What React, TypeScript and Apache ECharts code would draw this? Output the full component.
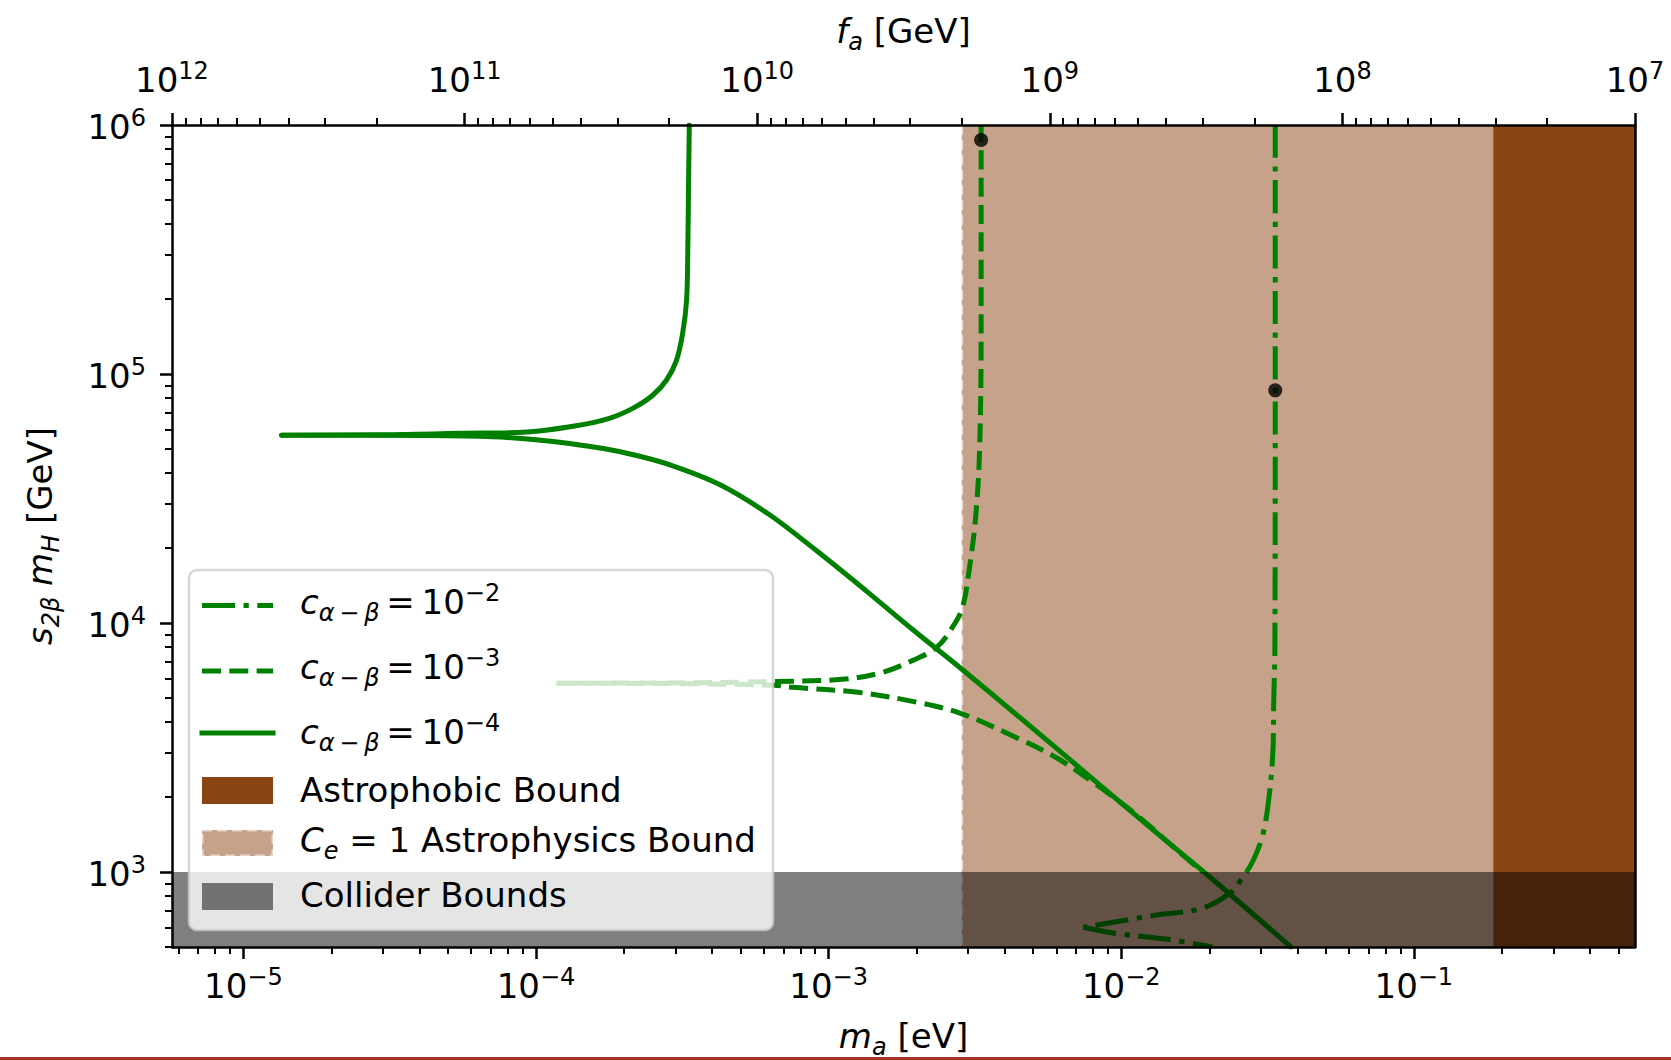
import React, { useEffect, useRef } from 'react';
import * as echarts from 'echarts';

// ---------- axis ranges / ticks ----------
const M_MIN = 5.7e-6;
const M_MAX = 0.57;
const FA_MIN = 1e7;
const FA_MAX = 1e12;
const Y_MIN = 500;
const Y_MAX = 1e6;

const X_MAJOR = [1e-5, 1e-4, 1e-3, 1e-2, 1e-1];
const FA_MAJOR = [1e7, 1e8, 1e9, 1e10, 1e11, 1e12];
const Y_MAJOR = [1e3, 1e4, 1e5, 1e6];

// ---------- bounds ----------
const FA_TIMES_MA = 5.7e6; // m_a [eV] = 5.7e6 / f_a [GeV]
const CE1_BOUND_FA = 2e9;
const ASTROPHOBIC_BOUND_FA = 3.05e7;
const COLLIDER_MAX = 1000;

// ---------- curves: c_{α-β} = 1e-4 (solid) ----------
const SOLID_UP_M = [1.35e-5, 3.0e-5, 5.47e-5, 9.27e-5, 1.37e-4, 1.78e-4, 2.14e-4, 2.5e-4, 2.79e-4, 3.02e-4, 3.17e-4, 3.27e-4, 3.3e-4, 3.32e-4, 3.34e-4];
const SOLID_UP_Y = [5.68e4, 5.7e4, 5.78e4, 5.85e4, 6.2e4, 6.64e4, 7.28e4, 8.2e4, 9.44e4, 1.135e5, 1.455e5, 1.98e5, 3.05e5, 5.62e5, 1e6];
const SOLID_LO_M = [1.35e-5, 4.0e-5, 7.1e-5, 1.0e-4, 1.3e-4, 1.7e-4, 2.15e-4, 2.9e-4, 4.24e-4, 6.23e-4, 9.1e-4, 1.34e-3, 1.95e-3, 2.8e-3, 4.5e-3, 8.11e-3, 1.3e-2, 2.07e-2, 3.8e-2];
const SOLID_LO_Y = [5.68e4, 5.66e4, 5.6e4, 5.45e4, 5.26e4, 5.02e4, 4.74e4, 4.3e4, 3.6e4, 2.74e4, 1.95e4, 1.35e4, 9.35e3, 6.64e3, 4.18e3, 2.33e3, 1.46e3, 927, 500];

// ---------- c_{α-β} = 1e-3 (dashed) ----------
const DASH_UP_M = [1.175e-4, 3.62e-4, 6.49e-4, 1.11e-3, 1.5e-3, 1.94e-3, 2.34e-3, 2.65e-3, 2.87e-3, 3.03e-3, 3.18e-3, 3.28e-3, 3.32e-3, 3.32e-3];
const DASH_UP_Y = [5.73e3, 5.76e3, 5.82e3, 5.94e3, 6.3e3, 7.08e3, 7.98e3, 9.62e3, 1.16e4, 1.67e4, 2.66e4, 4.93e4, 1.5e5, 1e6];
const DASH_LO_M = [1.175e-4, 3.62e-4, 6.53e-4, 7.53e-4, 1.26e-3, 2.0e-3, 2.82e-3, 4.35e-3, 5.97e-3, 8.11e-3, 1.11e-2, 1.52e-2, 1.9e-2];
const DASH_LO_Y = [5.73e3, 5.7e3, 5.62e3, 5.52e3, 5.27e3, 4.81e3, 4.34e3, 3.48e3, 2.89e3, 2.27e3, 1.72e3, 1.25e3, 1.0e3];

// ---------- c_{α-β} = 1e-2 (dash-dot) ----------
const DASHDOT_UP_M = [3.36e-2, 3.36e-2, 3.35e-2, 3.32e-2, 3.3e-2, 3.19e-2, 3.04e-2, 2.81e-2, 2.6e-2, 2.35e-2, 1.88e-2, 1.3e-2, 7.43e-3];
const DASHDOT_UP_Y = [1e6, 8.6e4, 7.83e3, 4.81e3, 3.08e3, 1.94e3, 1.4e3, 1.1e3, 952, 821, 714, 670, 600];
const DASHDOT_LO_M = [7.43e-3, 9.48e-3, 1.52e-2, 2.05e-2];
const DASHDOT_LO_Y = [600, 568, 532, 500];

// ---------- marked points ----------
const DOT_M = [3.32e-3, 3.36e-2];
const DOT_Y = [8.7e5, 8.6e4];

// ---------- style ----------
const FONT = 'DejaVu Sans';
const GREEN = '#008000';
const SADDLE = '#8b4513';
const TAN = 'rgba(139,69,19,0.5)';
const COLLIDER = 'rgba(0,0,0,0.5)';
const LINE_W = 5;
const DASHED = [19, 8.3];
const DASHDOT = [33, 8.5, 5.3, 8.5];

function minorTicks(lo: number, hi: number): number[] {
  const out: number[] = [];
  for (let k = Math.floor(Math.log10(lo)); k <= Math.ceil(Math.log10(hi)); k++) {
    for (let j = 2; j <= 9; j++) {
      const v = j * Math.pow(10, k);
      if (v >= lo && v <= hi) out.push(v);
    }
  }
  return out;
}

const zip = (a: number[], b: number[]) => a.map((v, i) => [v, b[i]]);

const pow10Label = (v: number) => {
  const e = Math.round(Math.log10(v));
  return `{b|10}{s|${e < 0 ? '\u2212' + -e : e}}`;
};

const TICK_RICH = {
  b: { fontFamily: FONT, fontSize: 34, color: '#000', verticalAlign: 'bottom', padding: [0, 0, 0, 0] },
  s: { fontFamily: FONT, fontSize: 24, color: '#000', verticalAlign: 'bottom', padding: [0, 0, 14, 0] },
};

const NAME_RICH = {
  n: { fontFamily: FONT, fontSize: 34, color: '#000', verticalAlign: 'bottom', padding: [0, 0, 6, 0] },
  i: { fontFamily: FONT, fontSize: 34, fontStyle: 'italic', color: '#000', verticalAlign: 'bottom', padding: [0, 0, 6, 0] },
  sub: { fontFamily: FONT, fontSize: 24, fontStyle: 'italic', color: '#000', verticalAlign: 'bottom', padding: [0, 0, 0, 0] },
};

const LEG_RICH = {
  n: { fontFamily: FONT, fontSize: 34, fill: '#000', verticalAlign: 'bottom', padding: [0, 0, 6, 0] },
  i: { fontFamily: FONT, fontSize: 34, fontStyle: 'italic', fill: '#000', verticalAlign: 'bottom', padding: [0, 0, 6, 0] },
  sub: { fontFamily: FONT, fontSize: 24, fontStyle: 'italic', fill: '#000', verticalAlign: 'bottom', padding: [0, 0, 0, 0] },
  sup: { fontFamily: FONT, fontSize: 24, fill: '#000', verticalAlign: 'bottom', padding: [0, 0, 20, 0] },
  p: { fontFamily: FONT, fontSize: 34, fill: '#000', verticalAlign: 'bottom', padding: [0, 0, 0, 0] },
};

function baseAxis(extra: any) {
  return {
    logBase: 10,
    z: 10,
    splitLine: { show: false },
    minorTick: { show: false },
    minorSplitLine: { show: false },
    ...extra,
  };
}

function majorAxis(position: string, min: number, max: number, ticks: number[], margin: number, extra: any) {
  return baseAxis({
    type: 'log',
    position,
    min,
    max,
    axisLine: { show: true, onZero: false, lineStyle: { color: '#000', width: 2.5 } },
    axisTick: { show: true, length: 12, lineStyle: { color: '#000', width: 2.5 }, customValues: ticks },
    axisLabel: { show: true, customValues: ticks, formatter: pow10Label, rich: TICK_RICH, margin, fontFamily: FONT, fontSize: 34, color: '#000' },
    ...extra,
  });
}

function minorAxis(position: string, min: number, max: number, ticks: number[], extra: any) {
  return baseAxis({
    type: 'log',
    position,
    min,
    max,
    offset: 0,
    axisLine: { show: false, onZero: false },
    axisTick: { show: true, length: 7, lineStyle: { color: '#000', width: 2 }, customValues: ticks },
    axisLabel: { show: false },
    ...extra,
  });
}

function rectSeries(name: string, x0: number, x1: number, y0: number, y1: number, fill: string, z: number, edge?: string) {
  return {
    type: 'custom',
    name,
    xAxisIndex: 0,
    yAxisIndex: 0,
    z,
    silent: true,
    clip: false,
    encode: { x: [0, 1], y: [2, 3] },
    data: [[x0, x1, y0, y1]],
    renderItem: (params: any, api: any) => {
      const a = api.coord([api.value(0), api.value(3)]);
      const b = api.coord([api.value(1), api.value(2)]);
      const children: any[] = [
        { type: 'rect', shape: { x: a[0], y: a[1], width: b[0] - a[0], height: b[1] - a[1] }, style: { fill } },
      ];
      if (edge) {
        children.push({
          type: 'line',
          shape: { x1: a[0], y1: a[1], x2: a[0], y2: b[1] },
          style: { stroke: edge, lineWidth: 3, lineDash: [10, 5] },
        });
      }
      return { type: 'group', children };
    },
  };
}

function lineSeries(name: string, m: number[], y: number[], type: any, cap: string, dashOffset = 0) {
  return {
    type: 'line',
    name,
    xAxisIndex: 0,
    yAxisIndex: 0,
    data: zip(m, y),
    showSymbol: false,
    symbol: 'none',
    smooth: 0.35,
    silent: true,
    z: 3,
    lineStyle: { color: GREEN, width: LINE_W, type, cap, join: 'round', dashOffset },
  };
}

export default function App() {
  const ref = useRef<HTMLDivElement>(null);
  useEffect(() => {
    if (!ref.current) return;
    const chart = echarts.init(ref.current, undefined, { renderer: 'svg' });

    const sub = '\u03b1\u2009\u2212\u2009\u03b2';
    const legendRows = [
      { y: 605.5, dash: DASHDOT, text: `{i|c}{sub|${sub}}{n|\u2009=\u200910}{sup|\u22122}`, ty: 603 },
      { y: 671, dash: DASHED, text: `{i|c}{sub|${sub}}{n|\u2009=\u200910}{sup|\u22123}`, ty: 668 },
      { y: 733, dash: null, text: `{i|c}{sub|${sub}}{n|\u2009=\u200910}{sup|\u22124}`, ty: 733 },
    ];

    const graphic: any[] = [
      {
        type: 'rect', z: 100, silent: true,
        shape: { x: 189, y: 570, width: 584, height: 360, r: 8 },
        style: { fill: 'rgba(255,255,255,0.8)', stroke: 'rgba(204,204,204,0.8)', lineWidth: 2.5 },
      },
      ...legendRows.map((r) => ({
        type: 'line', z: 101, silent: true,
        shape: { x1: 202, y1: r.y, x2: 273, y2: r.y },
        style: { stroke: GREEN, lineWidth: LINE_W, lineDash: r.dash || null, lineCap: r.dash ? 'butt' : 'square' },
      })),
      ...legendRows.map((r) => ({
        type: 'text', z: 101, silent: true, x: 300, y: r.ty,
        style: { text: r.text, rich: LEG_RICH, align: 'left', verticalAlign: 'middle', fill: '#000', fontFamily: FONT, fontSize: 34 },
      })),
      { type: 'rect', z: 101, silent: true, shape: { x: 202, y: 777, width: 71, height: 27 }, style: { fill: SADDLE } },
      {
        type: 'rect', z: 101, silent: true, shape: { x: 202, y: 830, width: 71, height: 26 },
        style: { fill: TAN, stroke: 'rgba(255,255,255,0.55)', lineWidth: 3, lineDash: [10, 5] },
      },
      { type: 'rect', z: 101, silent: true, shape: { x: 202, y: 883, width: 71, height: 27 }, style: { fill: COLLIDER } },
      {
        type: 'text', z: 101, silent: true, x: 300, y: 790,
        style: { text: '{p|Astrophobic Bound}', rich: LEG_RICH, align: 'left', verticalAlign: 'middle', fill: '#000' },
      },
      {
        type: 'text', z: 101, silent: true, x: 300, y: 843,
        style: { text: '{i|C}{sub|e}{n| = 1 Astrophysics Bound}', rich: LEG_RICH, align: 'left', verticalAlign: 'middle', fill: '#000' },
      },
      {
        type: 'text', z: 101, silent: true, x: 300, y: 895,
        style: { text: '{p|Collider Bounds}', rich: LEG_RICH, align: 'left', verticalAlign: 'middle', fill: '#000' },
      },
      { type: 'rect', z: 101, silent: true, shape: { x: 0, y: 1057, width: 1671, height: 3 }, style: { fill: '#a93226' } },
    ];

    chart.setOption({
      animation: false,
      backgroundColor: '#fff',
      grid: { left: 172, top: 125, width: 1463, height: 822, show: false, containLabel: false, outerBoundsMode: 'none' },
      xAxis: [
        majorAxis('bottom', M_MIN, M_MAX, X_MAJOR, 18, {
          name: '{i|m}{sub|a}{n| [eV]}',
          nameLocation: 'middle',
          nameGap: 72,
          nameTextStyle: { rich: NAME_RICH, fontFamily: FONT, fontSize: 34, color: '#000' },
        }),
        majorAxis('top', FA_MIN, FA_MAX, FA_MAJOR, 28, {
          inverse: true,
          name: '{i|f}{sub|a}{n| [GeV]}',
          nameLocation: 'middle',
          nameGap: 64,
          nameTextStyle: { rich: NAME_RICH, fontFamily: FONT, fontSize: 34, color: '#000' },
        }),
        minorAxis('bottom', M_MIN, M_MAX, minorTicks(M_MIN, M_MAX), {}),
        minorAxis('top', FA_MIN, FA_MAX, minorTicks(FA_MIN, FA_MAX), { inverse: true }),
      ],
      yAxis: [
        majorAxis('left', Y_MIN, Y_MAX, Y_MAJOR, 26, {
          name: '{i|s}{sub|2\u03b2}{i| m}{sub|H}{n| [GeV]}',
          nameLocation: 'middle',
          nameRotate: 90,
          nameGap: 109,
          nameTextStyle: { rich: NAME_RICH, fontFamily: FONT, fontSize: 34, color: '#000' },
        }),
        minorAxis('left', Y_MIN, Y_MAX, minorTicks(Y_MIN, Y_MAX), {}),
        baseAxis({
          type: 'log', position: 'right', min: Y_MIN, max: Y_MAX,
          axisLine: { show: true, onZero: false, lineStyle: { color: '#000', width: 2.5 } },
          axisTick: { show: false }, axisLabel: { show: false },
        }),
      ],
      series: [
        rectSeries('C_e = 1 Astrophysics Bound', FA_TIMES_MA / CE1_BOUND_FA, M_MAX, Y_MIN, Y_MAX, TAN, 1, 'rgba(255,255,255,0.55)'),
        rectSeries('Astrophobic Bound', FA_TIMES_MA / ASTROPHOBIC_BOUND_FA, M_MAX, Y_MIN, Y_MAX, SADDLE, 2),
        lineSeries('c=1e-4 upper', SOLID_UP_M, SOLID_UP_Y, 'solid', 'round'),
        lineSeries('c=1e-4 lower', SOLID_LO_M, SOLID_LO_Y, 'solid', 'round'),
        lineSeries('c=1e-3 upper', DASH_UP_M, DASH_UP_Y, DASHED, 'butt'),
        lineSeries('c=1e-3 lower', DASH_LO_M, DASH_LO_Y, DASHED, 'butt', 13),
        lineSeries('c=1e-2 upper', DASHDOT_UP_M, DASHDOT_UP_Y, DASHDOT, 'butt'),
        lineSeries('c=1e-2 lower', DASHDOT_LO_M, DASHDOT_LO_Y, DASHDOT, 'butt'),
        {
          type: 'scatter',
          name: 'points',
          xAxisIndex: 0,
          yAxisIndex: 0,
          data: zip(DOT_M, DOT_Y),
          symbol: 'circle',
          symbolSize: 14,
          itemStyle: { color: '#000' },
          silent: true,
          z: 4,
        },
        rectSeries('Collider Bounds', M_MIN, M_MAX, Y_MIN, COLLIDER_MAX, COLLIDER, 5),
      ],
      graphic,
    });
    return () => chart.dispose();
  }, []);

  return <div ref={ref} style={{ position: 'absolute', left: 0, top: 0, width: 1671, height: 1060 }} />;
}
